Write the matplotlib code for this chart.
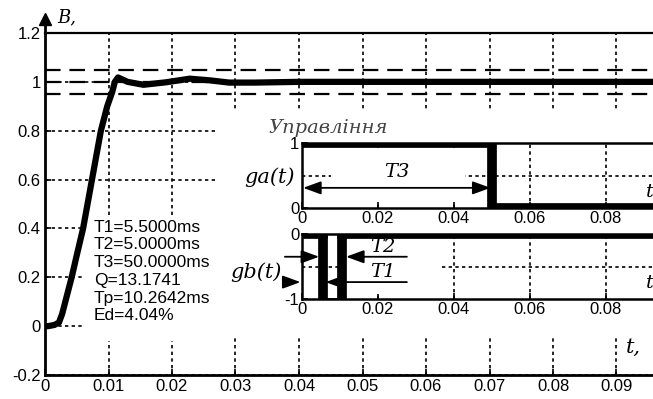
import numpy as np
import matplotlib.pyplot as plt
from matplotlib.patches import Rectangle

plt.rcParams['font.family'] = ['Liberation Sans', 'DejaVu Sans']
plt.rcParams['axes.unicode_minus'] = False

# перехідна характеристика B(t)
t_resp = [0, 0.0005, 0.0015, 0.0022, 0.0027, 0.0035, 0.0042, 0.005, 0.006,
          0.0074, 0.0088, 0.0098, 0.0106, 0.011, 0.0115, 0.012, 0.013, 0.0155,
          0.019, 0.0228, 0.026, 0.029, 0.033, 0.04, 0.1]
b_resp = [0, 0.0, 0.005, 0.015, 0.05, 0.13, 0.20, 0.29, 0.40,
          0.60, 0.80, 0.90, 0.96, 1.0, 1.018, 1.012, 1.0, 0.988,
          0.998, 1.013, 1.006, 0.997, 0.997, 1.0, 1.0]
band = [1.05, 1.0, 0.95]

main_xticks = [0, 0.01, 0.02, 0.03, 0.04, 0.05, 0.06, 0.07, 0.08, 0.09]
main_yticks = [-0.2, 0, 0.2, 0.4, 0.6, 0.8, 1, 1.2]
main_ylabels = ['-0.2', '0', '0.2', '0.4', '0.6', '0.8', '1', '1.2']

# керуючі сигнали
ga_t = [0, 0.05, 0.05, 0.1]
ga_v = [1, 1, 0, 0]
gb_t = [0, 0.0055, 0.0055, 0.0105, 0.0105, 0.1]
gb_v = [0, 0, -1, -1, 0, 0]
T3 = 0.05
inset_xticks = [0, 0.02, 0.04, 0.06, 0.08]
inset_xlabels = ['0', '0.02', '0.04', '0.06', '0.08']

info = ['T1=5.5000ms', 'T2=5.0000ms', 'T3=50.0000ms', 'Q=13.1741',
        'Tp=10.2642ms', 'Ed=4.04%']

W, H = 653, 399
fig = plt.figure(figsize=(W / 100, H / 100), dpi=100)

def fx(px):
    return px / W

def fy(py):
    return 1 - py / H

dot = (0, (2, 2))
serif = ['DejaVu Serif']
tsize = 12

ax = fig.add_axes([fx(45), fy(375), 635 / W, 342 / H])
ax.set_xlim(0, 0.1)
ax.set_ylim(-0.2, 1.2)
ax.set_xticks(main_xticks)
ax.set_xticklabels(['0'] + ['%.2f' % v for v in main_xticks[1:]])
ax.set_yticks(main_yticks)
ax.set_yticklabels(main_ylabels)
ax.tick_params(direction='in', length=4, width=1.2, labelsize=tsize, pad=3)
ax.grid(True, color='k', linestyle=dot, linewidth=1.2)
for s in ['left', 'bottom']:
    ax.spines[s].set_linewidth(2)
ax.spines['top'].set_linewidth(1.6)
ax.spines['right'].set_visible(False)

for yv in band:
    ax.axhline(yv, color='k', linestyle=(0, (7, 4)), linewidth=1.6, zorder=3)

# білі області під написами та вставками
ax.add_patch(Rectangle((0.0063, -0.06), 0.0207, 0.51, facecolor='white',
                       edgecolor='none', zorder=4))
ax.add_patch(Rectangle((0.027, -0.045), 0.08, 0.935, facecolor='white',
                       edgecolor='none', zorder=4))

ax.plot(t_resp, b_resp, color='k', linewidth=4.5, zorder=6, solid_joinstyle='round')

# стрілка осі Y
ax.plot([0, 0], [1.0, 1.03], color='k', lw=2, transform=ax.transAxes, clip_on=False)
ax.plot([0], [1.04], marker='^', color='k', markersize=8, transform=ax.transAxes,
        clip_on=False)
fig.text(fx(57), fy(17), 'B,', fontsize=13, style='italic', family=serif,
         va='center')
ax.text(0.0915, -0.085, 't,', fontsize=15, style='italic', family=serif,
        va='center', zorder=7)

for i, line in enumerate(info):
    fig.text(fx(94), fy(227 + 17.8 * i), line, fontsize=12.5, va='center')

fig.text(fx(268), fy(128), 'Управління', fontsize=14, style='italic',
         family=serif, color='#444444', va='center')
fig.text(fx(270), fy(177), 'ga(t)', fontsize=15, style='italic', family=serif,
         va='center', ha='center')
fig.text(fx(256), fy(272), 'gb(t)', fontsize=15, style='italic', family=serif,
         va='center', ha='center')

arrow = dict(arrowstyle='-|>,head_length=0.6,head_width=0.22', color='k',
             lw=1.3, mutation_scale=18, shrinkA=0, shrinkB=0)
arrow2 = dict(arrowstyle='<|-|>,head_length=0.6,head_width=0.22', color='k',
              lw=1.3, mutation_scale=18, shrinkA=0, shrinkB=0)

# вставка ga(t)
a1 = fig.add_axes([fx(302), fy(208), 380 / W, 65 / H])
a1.set_xlim(0, 0.1)
a1.set_ylim(0, 1)
a1.set_xticks(inset_xticks)
a1.set_xticklabels(inset_xlabels)
a1.set_yticks([0, 1])
a1.set_yticklabels(['0', '1'])
a1.tick_params(direction='in', length=4, width=1.2, labelsize=tsize, pad=2)
a1.grid(True, axis='x', color='k', linestyle=dot, linewidth=1.2)
a1.axhline(0.5, color='k', linestyle=dot, linewidth=1.2)
for s in a1.spines.values():
    s.set_linewidth(1.8)
a1.add_patch(Rectangle((0.0075, 0.1), 0.0355, 0.8, facecolor='white',
                       edgecolor='none', zorder=2.5))
a1.plot(ga_t, ga_v, color='k', linewidth=7, zorder=4)
a1.annotate('', xy=(0.0003, 0.31), xytext=(T3 - 0.0004, 0.31),
            arrowprops=arrow2, zorder=5)
a1.text(0.025, 0.55, 'T3', fontsize=14, style='italic', family=serif,
        ha='center', va='center', zorder=5)
a1.text(0.0905, 0.25, 't', fontsize=14, style='italic', family=serif,
        va='center', zorder=5)

# вставка gb(t)
a2 = fig.add_axes([fx(302), fy(299), 380 / W, 65 / H])
a2.set_xlim(0, 0.1)
a2.set_ylim(-1, 0)
a2.set_xticks(inset_xticks)
a2.set_xticklabels(inset_xlabels)
a2.set_yticks([-1, 0])
a2.set_yticklabels(['-1', '0'])
a2.tick_params(direction='in', length=4, width=1.2, labelsize=tsize, pad=2)
a2.grid(True, axis='x', color='k', linestyle=dot, linewidth=1.2)
a2.axhline(-0.5, color='k', linestyle=dot, linewidth=1.2)
for s in a2.spines.values():
    s.set_linewidth(1.8)
a2.add_patch(Rectangle((0.012, -0.92), 0.024, 0.84, facecolor='white',
                       edgecolor='none', zorder=2.5))
a2.plot(gb_t, gb_v, color='k', linewidth=2, zorder=4)
# товсті фронти імпульсу та рівень 0
for i in range(len(gb_t) - 1):
    if gb_t[i] == gb_t[i + 1]:
        a2.plot(gb_t[i:i + 2], gb_v[i:i + 2], color='k', linewidth=7,
                solid_capstyle='butt', zorder=4)
    elif gb_v[i] == 0 and gb_v[i + 1] == 0:
        a2.plot(gb_t[i:i + 2], gb_v[i:i + 2], color='k', linewidth=7, zorder=4)
a2.annotate('', xy=(0.0045, -0.35), xytext=(-0.0045, -0.35), arrowprops=arrow,
            annotation_clip=False, zorder=5)
a2.annotate('', xy=(0.0116, -0.35), xytext=(0.0276, -0.35), arrowprops=arrow,
            annotation_clip=False, zorder=5)
a2.annotate('', xy=(-0.0004, -0.74), xytext=(-0.0045, -0.74), arrowprops=arrow,
            annotation_clip=False, zorder=5)
a2.annotate('', xy=(0.0062, -0.74), xytext=(0.0276, -0.74), arrowprops=arrow,
            annotation_clip=False, zorder=5)
a2.text(0.0213, -0.2, 'T2', fontsize=14, style='italic', family=serif,
        ha='center', va='center', zorder=5)
a2.text(0.0213, -0.58, 'T1', fontsize=14, style='italic', family=serif,
        ha='center', va='center', zorder=5)
a2.text(0.0905, -0.75, 't', fontsize=14, style='italic', family=serif,
        va='center', zorder=5)

fig.savefig('out.png', dpi=100)
